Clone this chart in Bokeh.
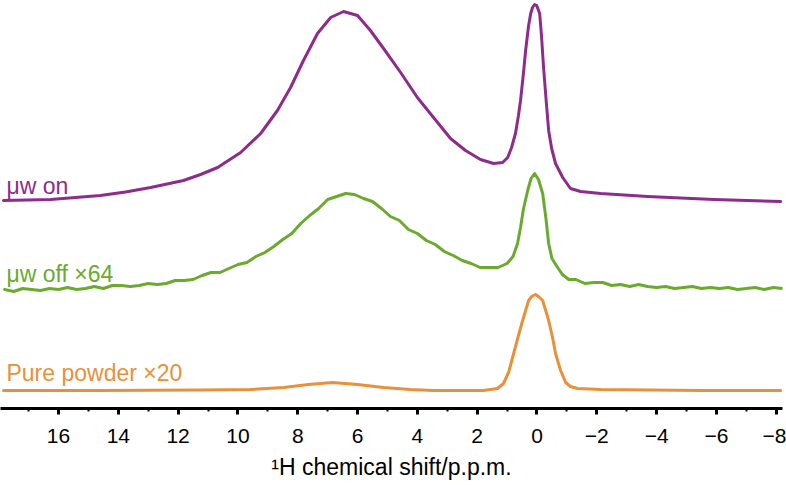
from bokeh.plotting import figure
from bokeh.models import Range1d, FixedTicker
from bokeh.core.properties import value
from bokeh.embed import file_html
from bokeh.resources import INLINE

# ---- data (chemical shift in p.p.m., intensity in arbitrary stacked units) ----
on_ppm = [17.84, 16.27, 14.60, 13.76, 12.92, 11.82, 11.25, 10.68, 9.91, 9.24, 8.68, 8.24,
          7.81, 7.34, 6.90, 6.47, 6.00, 5.57, 5.13, 4.56, 4.00, 3.46, 2.89, 2.39, 1.89,
          1.45, 1.15, 0.98, 0.85, 0.72, 0.62, 0.55, 0.45, 0.38, 0.28, 0.21, 0.15, 0.08,
          0.01, -0.09, -0.15, -0.22, -0.32, -0.39, -0.49, -0.62, -0.86, -1.12, -1.46,
          -2.13, -3.70, -5.91, -8.15]
on_int = [208, 209, 213, 216.5, 221, 228, 234, 241, 256, 275, 298, 321,
          348, 375, 391, 397, 393, 378, 360, 336, 311, 291, 270, 258, 249,
          245, 246, 251, 261, 275, 293, 308, 336, 358, 383, 395, 401, 404,
          403, 395, 373, 341, 303, 278, 260, 245, 231, 220, 217,
          215, 212, 209, 207]

off_ppm = [17.8, 17.5, 17.2, 16.9, 16.6, 16.3, 16.0, 15.7, 15.4, 15.1, 14.8, 14.5, 14.2,
           13.9, 13.6, 13.3, 13.0, 12.7, 12.4, 12.1, 11.8, 11.5, 11.2, 10.9, 10.6, 10.3,
           10.0, 9.7, 9.4, 9.1, 8.8, 8.5, 8.2, 7.9, 7.6, 7.3, 7.0, 6.7, 6.4, 6.1, 5.8,
           5.5, 5.2, 4.9, 4.6, 4.3, 4.0, 3.7, 3.4, 3.1, 2.8, 2.5, 2.2, 1.9, 1.6, 1.3, 1.0,
           0.8, 0.65, 0.55, 0.45, 0.31, 0.2, 0.08, -0.05, -0.19, -0.3, -0.39, -0.5, -0.69,
           -0.85, -1.06, -1.3, -1.6, -1.9, -2.2, -2.5, -2.8, -3.1, -3.4, -3.7, -4.0, -4.3,
           -4.6, -4.9, -5.2, -5.5, -5.8, -6.1, -6.4, -6.7, -7.0, -7.3, -7.6, -7.9, -8.2]
off_int = [119, 117, 120, 119, 118, 120, 119, 121, 119, 120, 122, 120, 123,
           123, 122, 123, 125, 124, 125, 128, 128, 129, 133, 136, 136, 140,
           144, 146, 152, 156, 162, 169, 175, 185, 193, 200, 209, 212, 215, 214, 210,
           207, 200, 192, 188, 179, 175, 168, 164, 157, 153, 148, 145, 141, 141, 141, 145,
           152, 165, 181, 200, 218, 230, 235, 229, 215, 190, 165, 150, 141,
           134, 129, 129, 125, 126, 126, 123, 124, 122, 124, 122, 121, 122,
           120, 121, 122, 120, 121, 120, 121, 119, 120, 121, 119, 121, 120]

pow_ppm = [17.84, 14.60, 11.25, 9.58, 8.47, 7.64, 6.84, 6.00, 5.13, 4.23, 3.46, 1.79,
           1.32, 1.12, 0.95, 0.78, 0.62, 0.48, 0.38, 0.28, 0.18, 0.05, -0.05, -0.19,
           -0.29, -0.39, -0.52, -0.62, -0.79, -0.96, -1.12, -1.36, -2.13, -5.47, -8.15]
pow_int = [18, 18, 18.5, 19, 21, 24, 26, 24, 21, 19, 18, 18,
           20, 25, 36, 55, 73, 88, 98, 108, 112, 114, 112, 108,
           98, 88, 71, 55, 38, 26, 22, 20, 19, 18, 18]

labels = ["\u03bcw on", "\u03bcw off \u00d764", "Pure powder \u00d720"]
label_y = [223, 135, 36]
colors = ["#8E2C8B", "#6BAA2E", "#E8913A"]

tick_values = [16, 14, 12, 10, 8, 6, 4, 2, 0, -2, -4, -6, -8]
tick_labels = ["16", "14", "12", "10", "8", "6", "4", "2", "0",
               "\u22122", "\u22124", "\u22126", "\u22128"]
minor_values = [17, 15, 13, 11, 9, 7, 5, 3, 1, -1, -3, -5, -7]
x_title = "\u00b9H chemical shift/p.p.m."

FONT = "Liberation Sans"
X0, X1 = 17.94, -8.21

p = figure(width=786, height=485, output_backend="svg", toolbar_location=None,
           x_range=Range1d(X0, X1), y_range=Range1d(0, 408),
           min_border_left=0, min_border_right=4, min_border_top=0, min_border_bottom=77)
p.outline_line_color = None
p.grid.visible = False
p.yaxis.visible = False
p.background_fill_color = "white"

series = [(on_ppm, on_int), (off_ppm, off_int), (pow_ppm, pow_int)]
for (xs, ys), c in zip(series, colors):
    p.line(xs, ys, line_color=c, line_width=3, line_join="round", line_cap="round")

for t, y, c in zip(labels, label_y, colors):
    p.text(x=[17.74], y=[y], text=[t], text_color=c, text_font=value(FONT),
           text_font_size="23px", text_baseline="alphabetic", text_align="left")

ax = p.xaxis[0]
ax.ticker = FixedTicker(ticks=tick_values, minor_ticks=minor_values)
ax.major_label_overrides = {v: s for v, s in zip(tick_values, tick_labels)}
ax.axis_line_width = 3
ax.axis_line_color = "black"
ax.major_tick_line_width = 3
ax.major_tick_out = 6
ax.major_tick_in = 0
ax.minor_tick_line_width = 2
ax.minor_tick_out = 3
ax.minor_tick_in = 0
ax.major_label_text_font = FONT
ax.major_label_text_font_size = "21px"
ax.major_label_text_color = "black"
ax.major_label_text_line_height = 1.0
ax.major_label_standoff = 14
ax.axis_label = x_title
ax.axis_label_text_font = FONT
ax.axis_label_text_font_size = "23px"
ax.axis_label_text_font_style = "normal"
ax.axis_label_text_color = "black"
ax.axis_label_text_line_height = 1.0
ax.axis_label_standoff = 8

open("out.html", "w").write(file_html(p, INLINE))
